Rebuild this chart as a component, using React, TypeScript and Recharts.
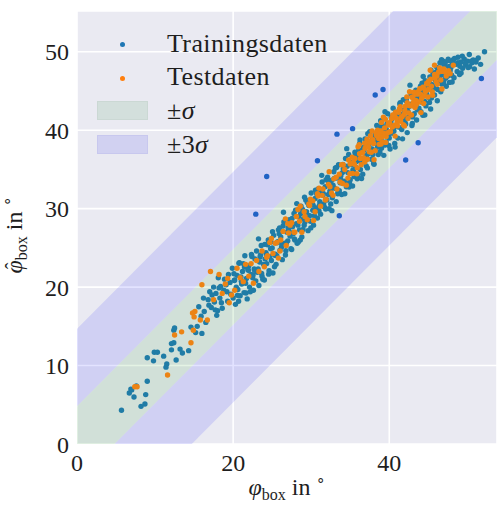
import React from "react";
import { ComposedChart, Scatter, Area, XAxis, YAxis, CartesianGrid, Label } from "recharts";

const SIGMA = 4.8;
const SIGMA3 = 14.7;
const X_MAX = 53.8;
const Y_MAX = 55.2;
const xTicks = [0, 20, 40];
const yTicks = [0, 10, 20, 30, 40, 50];

const trainingPoints: [number, number][] = [
  [5.7, 4.3], [8.2, 4.8], [8.7, 5.1], [6.7, 6.5], [7.3, 6.0], [7.0, 6.9], [8.8, 6.3], [9.0, 8.0], [7.6, 7.4], [6.9, 7.0],
  [9.0, 11.0], [9.8, 10.6], [9.9, 11.7], [10.3, 11.7], [11.1, 11.2], [11.5, 10.2], [11.4, 9.8], [12.1, 12.0], [12.7, 10.7],
  [12.1, 12.8], [12.4, 12.9], [13.2, 12.1], [13.5, 11.6], [14.3, 11.9], [12.4, 14.5], [14.6, 14.9], [15.2, 14.2], [16.0, 14.1],
  [12.5, 14.8], [15.6, 17.5], [16.3, 16.9], [16.9, 17.7], [16.8, 18.4], [17.2, 17.4], [17.6, 18.1], [18.0, 17.0], [18.3, 18.6],
  [17.9, 16.4], [16.5, 15.5], [15.9, 16.3], [15.4, 15.0], [16.2, 18.6], [17.0, 19.4], [17.5, 20.0], [17.8, 19.2], [18.4, 20.1],
  [18.8, 19.6], [18.1, 21.2], [18.6, 17.3],
  [19.1, 20.3], [19.3, 18.2], [19.4, 21.6], [19.7, 19.1], [19.9, 22.4], [20.0, 18.6], [20.2, 20.9], [20.3, 17.8], [20.5, 21.5],
  [20.6, 19.7], [20.8, 23.1], [20.9, 18.9], [21.1, 20.4], [21.2, 22.0], [21.4, 19.3], [21.5, 24.0], [21.7, 21.1], [21.8, 18.5],
  [22.0, 22.7], [22.1, 20.0], [22.3, 21.6], [22.4, 23.9], [22.6, 19.6], [22.7, 22.3], [22.9, 20.8], [23.0, 24.6], [23.1, 21.9],
  [23.3, 20.2], [23.4, 23.2], [23.6, 25.3], [23.7, 21.4], [23.9, 22.9], [24.0, 20.9], [24.2, 24.4], [24.3, 23.0], [24.5, 26.0],
  [24.6, 22.1], [24.8, 24.9], [24.9, 23.4], [25.1, 21.8], [25.2, 26.6], [25.4, 24.2], [25.5, 22.9], [25.7, 25.8], [25.8, 27.3],
  [26.0, 24.7], [26.1, 26.4], [26.3, 23.5], [26.4, 27.8], [26.6, 25.6], [26.7, 24.1], [26.9, 27.0], [27.0, 25.9], [27.2, 28.6],
  [27.3, 26.5], [27.5, 24.8], [27.6, 27.7], [27.8, 29.4], [27.9, 26.0], [28.1, 28.1], [28.2, 25.6], [28.4, 29.0], [28.5, 27.3],
  [28.7, 30.3], [28.8, 26.4], [29.0, 28.7], [29.1, 27.9], [29.3, 31.1], [29.4, 29.6], [29.6, 27.2], [29.7, 30.4], [29.9, 28.4],
  [30.0, 32.0], [30.2, 29.8], [30.3, 27.9], [30.5, 31.3], [30.6, 30.1], [30.8, 28.8], [30.9, 32.5], [31.1, 30.9], [31.2, 29.3],
  [31.4, 33.4], [31.5, 31.7], [31.7, 30.2], [31.8, 32.8], [32.0, 31.1], [32.1, 34.0], [32.3, 30.0], [32.4, 32.2], [32.6, 33.6],
  [32.7, 31.4], [32.9, 34.7], [33.0, 32.6], [33.2, 30.9], [33.3, 33.9], [33.5, 35.6], [33.6, 32.3], [33.8, 34.2], [33.9, 31.8],
  [34.1, 35.1], [34.2, 33.5], [34.4, 36.4], [34.5, 32.8], [34.7, 34.6], [34.8, 36.9], [35.0, 33.7], [35.1, 35.9], [35.3, 32.9],
  [35.4, 34.8], [35.6, 37.2], [35.7, 35.3], [35.9, 33.8], [36.0, 36.6], [36.2, 38.3], [36.3, 35.0], [36.5, 37.4], [36.6, 34.4],
  [36.8, 36.1], [36.9, 38.9], [37.1, 36.8], [37.2, 35.2], [37.4, 38.0], [37.5, 39.8], [37.7, 36.3], [37.8, 37.6], [38.0, 35.8],
  [38.1, 39.1], [38.3, 37.5], [38.4, 40.6], [38.6, 36.9], [38.7, 38.6], [38.9, 41.2], [39.0, 37.7], [39.2, 39.7], [39.3, 36.8],
  [39.5, 40.3], [39.6, 38.5], [39.8, 42.1], [39.9, 39.2], [40.1, 37.6], [40.2, 41.0], [40.4, 39.6], [40.5, 42.8], [40.7, 38.3],
  [40.8, 40.5], [41.0, 42.3], [41.1, 39.0], [41.3, 41.6], [41.4, 43.5], [41.6, 40.1], [41.7, 38.9], [41.9, 42.6], [42.0, 41.2],
  [42.2, 44.0], [42.3, 39.7], [42.5, 43.0], [42.6, 41.8], [42.8, 44.6], [42.9, 40.6], [43.1, 43.4], [43.2, 42.1], [43.4, 45.1],
  [43.5, 41.3], [43.7, 44.2], [43.8, 42.8], [44.0, 45.6], [44.1, 43.6], [44.3, 41.9], [44.4, 44.9], [44.6, 46.3], [44.7, 43.1],
  [44.9, 45.4], [45.0, 44.2], [45.2, 46.8], [45.3, 42.7], [45.5, 45.8], [45.6, 47.2], [45.8, 44.5], [45.9, 46.4], [46.1, 48.0],
  [46.2, 45.2], [46.4, 47.0], [46.5, 48.6], [46.7, 45.9], [46.8, 47.7], [47.0, 46.4], [47.1, 48.3], [47.3, 45.6], [47.4, 47.3],
  [47.6, 48.9], [47.7, 46.1], [47.9, 48.0], [48.0, 47.0], [48.2, 49.0], [48.3, 46.7], [48.5, 48.4], [48.7, 47.5], [48.8, 49.3],
  [49.0, 47.1], [49.2, 48.7], [49.4, 47.9], [49.6, 49.1], [49.8, 48.3], [50.0, 48.8], [50.3, 48.1], [50.6, 48.6], [50.9, 47.8],
  [51.1, 48.7], [51.4, 49.2], [51.7, 48.4], [52.2, 50.0], [46.7, 49.0], [46.9, 48.8], [47.6, 48.1],
  [17.3, 19.0], [17.7, 17.1], [18.2, 19.9], [18.5, 18.0], [18.9, 21.0], [19.2, 19.4], [19.6, 20.6], [20.1, 21.7], [20.4, 20.0],
  [20.7, 18.2], [21.0, 21.3], [21.3, 23.0], [21.6, 20.5], [21.9, 22.2], [22.2, 19.4], [22.5, 21.2], [22.8, 23.6], [23.2, 22.3],
  [23.5, 24.1], [23.8, 21.0], [24.1, 23.6], [24.4, 25.4], [24.7, 23.9], [25.0, 25.0], [25.3, 22.6], [25.6, 24.0], [25.9, 26.8],
  [26.2, 25.1], [26.5, 28.3], [26.8, 25.6], [27.1, 27.3], [27.4, 24.9], [27.7, 26.8], [28.0, 29.8], [28.3, 27.9], [28.6, 26.0],
  [28.9, 29.9], [29.2, 28.3], [29.5, 30.8], [29.8, 29.1], [30.1, 30.6], [30.4, 29.1], [30.7, 31.9], [31.0, 29.7], [31.3, 32.2],
  [31.6, 30.6], [31.9, 33.7], [32.2, 31.8], [32.5, 30.6], [32.8, 33.0], [33.1, 35.2], [33.4, 31.9], [33.7, 33.3], [34.0, 34.6],
  [34.3, 31.9], [34.6, 35.4], [34.9, 33.3], [35.2, 35.6], [35.5, 34.1], [35.8, 36.0], [36.1, 37.5], [36.4, 36.0], [36.7, 37.8],
  [37.0, 36.2], [37.3, 37.0], [37.6, 38.5], [37.9, 36.9], [38.2, 39.6], [38.5, 38.0], [38.8, 37.2], [39.1, 40.5], [39.4, 38.1],
  [39.7, 40.8], [40.0, 39.0], [40.3, 41.4], [40.6, 39.9], [40.9, 41.8], [41.2, 40.4], [41.5, 42.0], [41.8, 43.9], [42.1, 40.8],
  [42.4, 42.4], [42.7, 43.3], [43.0, 41.7], [43.3, 44.0], [43.6, 42.6], [43.9, 43.8], [44.2, 46.0], [44.5, 43.7], [44.8, 44.6],
  [45.1, 46.1], [45.4, 44.1], [45.7, 45.4], [46.0, 47.4], [46.3, 46.1], [46.6, 44.9], [46.9, 47.1], [47.2, 48.7], [47.5, 46.9],
  [47.8, 47.6], [48.1, 48.6], [48.8, 48.6], [49.2, 47.3], [50.1, 48.0], [50.5, 48.8], [51.1, 48.9],
  [20.15, 20.85], [20.55, 18.95], [20.75, 23.05], [21.05, 20.75], [21.45, 22.55], [21.65, 19.25], [21.95, 22.15], [22.35, 24.15],
  [22.55, 21.55], [22.75, 22.15], [23.25, 26.15], [23.45, 23.85], [23.65, 21.75], [24.05, 25.45], [24.25, 24.15], [24.55, 21.65],
  [24.85, 25.75], [25.05, 27.05], [25.35, 24.05], [25.65, 25.65], [25.95, 27.55], [26.25, 25.45], [26.45, 29.55], [26.75, 24.65],
  [27.05, 27.55], [27.35, 26.95], [27.55, 28.75], [27.85, 26.15], [28.15, 30.65], [28.35, 25.75], [28.65, 29.35], [28.95, 27.35],
  [29.15, 31.45], [29.45, 29.15], [29.75, 30.85], [29.95, 27.55], [30.25, 30.45], [30.55, 32.35], [30.85, 29.85], [31.05, 30.45],
  [31.35, 34.25], [31.55, 31.95], [31.85, 29.95], [32.15, 33.55], [32.45, 32.35], [32.65, 29.75], [32.95, 33.85], [33.25, 35.25],
  [33.45, 32.15], [33.75, 33.75], [34.05, 35.65], [34.25, 33.45], [34.55, 37.65], [34.85, 32.75], [35.15, 35.65], [35.35, 34.95],
  [35.65, 36.85], [35.95, 34.25], [36.25, 38.75], [36.45, 33.85], [36.75, 37.45], [37.05, 35.45], [37.25, 39.55], [37.55, 37.25],
  [37.85, 38.95], [38.05, 35.65], [38.35, 38.55], [38.65, 40.45], [38.85, 37.85], [39.15, 38.55], [39.45, 42.35], [39.65, 40.05],
  [39.95, 38.05], [40.25, 41.65], [40.45, 40.35], [40.75, 37.85], [41.05, 41.95], [41.35, 43.35], [41.55, 40.25], [41.85, 41.85],
  [42.15, 43.75], [42.35, 41.55], [42.65, 45.75], [42.95, 40.85], [43.25, 43.75], [43.45, 43.05], [43.75, 44.95], [44.05, 42.35],
  [44.35, 46.85], [44.55, 41.95], [44.85, 45.55], [45.15, 43.55], [45.35, 47.65], [45.65, 45.35], [45.95, 47.05], [46.15, 43.75],
  [46.45, 46.65], [46.75, 48.55], [46.95, 45.95], [47.25, 46.65], [47.55, 49.05], [47.75, 48.15], [48.05, 46.15], [48.35, 49.15],
  [48.55, 48.45], [49.05, 48.15], [49.35, 49.45], [49.75, 48.55], [50.25, 49.65], [50.75, 48.95],
];

// training samples that fall outside the ±σ band
const trainingOutliers: [number, number][] = [
  [24.3, 34.1], [22.9, 29.3], [30.8, 36.1], [33.3, 39.5], [35.3, 40.2], [38.2, 44.5], [39.2, 45.2],
  [43.7, 38.4], [42.1, 36.2], [51.8, 46.6], [33.6, 29.1],
];

const testPoints: [number, number][] = [
  [7.4, 7.3], [7.7, 7.3], [11.6, 8.8], [12.5, 13.9], [13.4, 14.3], [14.6, 12.9], [14.8, 16.7], [15.0, 16.2], [15.1, 16.9],
  [15.8, 15.8], [16.7, 15.8], [16.0, 20.3], [17.1, 22.0], [18.2, 21.6], [17.5, 18.4], [19.5, 18.0], [14.9, 14.5],
  [18.6, 19.2], [19.0, 20.4], [19.3, 21.1], [19.8, 19.0], [20.2, 19.6], [20.5, 22.4], [20.9, 21.2], [21.3, 20.7], [21.6, 22.9],
  [22.0, 21.4], [22.3, 23.0], [22.6, 20.5], [23.0, 23.4], [23.3, 22.0], [23.7, 24.6], [24.0, 22.6], [24.4, 24.0], [24.7, 25.7],
  [25.1, 24.3], [25.4, 25.6], [25.8, 23.7], [26.1, 26.0], [26.4, 27.1], [26.8, 25.3], [27.1, 26.9], [27.5, 28.2], [27.8, 27.0],
  [28.1, 29.0], [28.5, 28.4], [28.8, 27.0], [29.1, 29.6], [29.5, 28.6], [29.8, 30.4], [30.2, 31.0], [30.5, 29.6],
  [30.9, 31.6], [31.2, 30.3], [31.5, 32.5], [31.9, 31.2], [32.2, 33.1], [32.6, 32.0], [32.9, 33.8], [33.3, 32.5], [33.6, 34.4],
  [34.0, 33.2], [34.3, 35.0], [34.7, 33.9], [35.0, 35.7], [35.3, 34.5], [35.6, 36.4], [35.9, 35.2], [36.2, 37.0], [36.4, 35.6],
  [36.7, 36.5], [36.9, 37.7], [37.2, 36.3], [37.4, 38.4], [37.7, 37.2], [37.9, 38.8], [38.2, 37.4], [38.4, 39.3], [38.7, 38.2],
  [38.9, 39.9], [39.1, 38.5], [39.4, 40.3], [39.6, 39.2], [39.9, 40.9], [40.1, 39.8], [40.3, 41.5], [40.6, 40.6], [40.8, 42.3],
  [41.0, 41.0], [41.3, 42.7], [41.5, 41.6], [41.8, 40.7], [42.0, 42.5], [42.3, 43.5], [42.5, 42.2], [42.8, 43.1], [43.0, 44.2],
  [43.3, 42.9], [43.5, 44.6], [43.8, 43.6], [44.0, 44.6], [44.3, 45.5], [44.5, 44.4], [44.8, 46.0], [45.0, 45.2], [45.3, 46.5],
  [45.5, 44.9], [45.8, 47.1], [46.0, 46.2], [46.3, 47.4], [46.6, 46.4], [45.8, 48.3], [47.0, 47.8], [47.3, 46.9], [47.6, 47.6],
  [34.8, 36.2], [35.4, 35.9], [36.0, 37.9], [36.6, 37.2], [37.1, 37.9], [37.6, 39.3], [38.0, 38.3], [38.5, 40.0], [39.0, 41.0],
  [39.3, 39.6], [39.8, 39.7], [40.4, 40.4], [40.9, 41.5], [41.4, 43.0], [41.9, 42.0], [42.4, 41.5], [42.9, 44.2], [43.4, 43.8],
  [43.9, 45.3], [44.4, 43.4], [44.9, 45.9], [45.4, 45.6], [46.1, 46.9], [46.8, 47.5], [41.2, 42.3], [39.5, 41.4], [37.8, 39.9],
  [36.3, 36.4], [38.3, 39.7], [40.7, 41.8], [42.6, 44.9], [43.7, 44.9], [44.6, 45.1], [33.9, 35.6], [32.4, 32.8], [31.0, 32.6],
  [29.9, 31.2], [28.3, 29.9], [27.0, 28.1],
  [24.3, 23.8], [24.9, 26.2], [25.6, 25.7], [26.0, 24.6], [26.7, 28.7], [27.3, 27.9], [27.9, 27.0], [28.6, 30.3], [29.2, 29.0],
  [29.7, 30.6], [30.3, 28.5], [30.8, 31.9], [31.4, 31.7], [31.8, 31.1], [32.3, 34.7], [32.8, 31.7], [33.2, 34.0], [33.7, 33.4],
  [34.1, 35.6], [34.5, 33.0], [34.95, 34.45], [35.25, 36.55], [35.55, 35.65], [35.85, 34.45], [36.15, 38.15], [36.55, 37.15],
  [36.85, 35.95], [37.15, 38.85], [37.45, 37.25], [37.75, 38.65], [38.05, 36.25], [38.35, 39.45], [38.65, 38.95], [38.95, 38.25],
  [39.25, 41.65], [39.55, 38.45], [39.85, 40.65], [40.15, 39.85], [40.45, 41.95], [40.75, 39.25], [41.05, 40.55], [41.35, 42.65],
  [41.65, 41.75], [41.95, 40.55], [42.25, 44.25], [42.55, 43.15], [42.85, 41.95], [43.15, 44.85], [43.45, 43.25], [43.75, 44.65],
  [44.05, 42.25], [44.35, 45.45], [44.65, 44.95], [44.95, 44.25], [45.25, 47.65], [45.55, 44.45], [45.85, 46.65], [46.15, 45.85],
  [46.45, 47.95], [46.75, 45.25], [47.2, 47.4], [47.8, 47.2], [48.2, 48.3], [37.35, 37.85], [38.75, 39.55], [40.05, 40.95],
  [41.45, 41.15], [42.05, 43.05], [43.05, 43.55], [39.05, 39.15], [36.85, 38.35], [44.15, 44.05], [45.05, 46.25],
];

const FONT = "'Liberation Serif', 'Times New Roman', serif";
const TEXT = "#1e1e1e";
const BG = "#eaeaf2";
const GREEN_FILL = "rgba(44, 160, 44, 0.13)";
const BLUE_FILL = "rgba(0, 0, 255, 0.11)";
const TRAIN = "#207ca6";
const TRAIN_OUT = "#2062c4";
const TEST = "#ec8314";

// band edges only need the two ends of the x range, the lines are straight
const bandEnds = [0, X_MAX];
const sigmaBand = bandEnds.map((x) => ({ x, band: [x - SIGMA, x + SIGMA] }));
const upperBand = bandEnds.map((x) => ({ x, band: [x + SIGMA, x + SIGMA3] }));
const lowerBand = bandEnds.map((x) => ({ x, band: [x - SIGMA3, x - SIGMA] }));

const toXY = (pts: [number, number][]) => pts.map(([x, y]) => ({ x, y }));

const dot = (color: string) => (props: any) => (
  <circle cx={props.cx} cy={props.cy} r={2.7} fill={color} />
);

function XTitle(props: any) {
  const { x, y, width } = props.viewBox;
  return (
    <text x={x + width / 2} y={y + 51} textAnchor="middle" fontFamily={FONT} fontSize={24} fill={TEXT}>
      <tspan fontStyle="italic">φ</tspan>
      <tspan fontSize={16} dy={5}>box</tspan>
      <tspan dy={-5}> in </tspan>
      <tspan fontSize={15} dy={-10}>∘</tspan>
    </text>
  );
}

// rotated title, laid out from its start so the hat can sit over the phi
function YTitle(props: any) {
  const { y, height } = props.viewBox;
  const cy = y + height / 2;
  const start = -46;
  return (
    <g transform={`translate(22, ${cy}) rotate(-90)`} fontFamily={FONT} fill={TEXT}>
      <text x={start} y={0} fontSize={24}>
        <tspan fontStyle="italic">φ</tspan>
        <tspan fontSize={16} dy={5}>box</tspan>
        <tspan dy={-5}> in </tspan>
        <tspan fontSize={15} dy={-10}>∘</tspan>
      </text>
      <text x={start + 7.5} y={-2} fontSize={20} textAnchor="middle">ˆ</text>
    </g>
  );
}

const legendText: React.CSSProperties = {
  position: "absolute",
  left: 167,
  fontFamily: FONT,
  fontSize: 26,
  color: TEXT,
  lineHeight: "26px",
  whiteSpace: "nowrap",
  letterSpacing: 0.4,
};

export default function App() {
  return (
    <div style={{ position: "absolute", left: 0, top: 0, width: 499, height: 506, background: "#fff" }}>
      <ComposedChart width={499} height={506} margin={{ top: 11, right: 2, bottom: 0, left: 0 }}>
        <CartesianGrid fill={BG} stroke="#ffffff" strokeWidth={1.6} />
        <XAxis
          dataKey="x"
          type="number"
          domain={[0, X_MAX]}
          ticks={xTicks}
          allowDataOverflow
          axisLine={false}
          tickLine={false}
          tickSize={0}
          tickMargin={10}
          height={62}
          tick={{ fontFamily: FONT, fontSize: 24, fill: TEXT }}
        >
          <Label content={<XTitle />} />
        </XAxis>
        <YAxis
          type="number"
          domain={[0, Y_MAX]}
          ticks={yTicks}
          allowDataOverflow
          axisLine={false}
          tickLine={false}
          tickSize={0}
          tickMargin={8}
          width={77}
          tick={{ fontFamily: FONT, fontSize: 24, fill: TEXT }}
        >
          <Label content={<YTitle />} />
        </YAxis>
        <Area data={upperBand} dataKey="band" type="linear" fill={BLUE_FILL} fillOpacity={1} stroke="none" isAnimationActive={false} />
        <Area data={lowerBand} dataKey="band" type="linear" fill={BLUE_FILL} fillOpacity={1} stroke="none" isAnimationActive={false} />
        <Area data={sigmaBand} dataKey="band" type="linear" fill={GREEN_FILL} fillOpacity={1} stroke="none" isAnimationActive={false} />
        <Scatter data={toXY(trainingPoints)} dataKey="y" shape={dot(TRAIN)} isAnimationActive={false} />
        <Scatter data={toXY(trainingOutliers)} dataKey="y" shape={dot(TRAIN_OUT)} isAnimationActive={false} />
        <Scatter data={toXY(testPoints)} dataKey="y" shape={dot(TEST)} isAnimationActive={false} />
      </ComposedChart>

      <div style={{ position: "absolute", left: 119.5, top: 41.5, width: 5, height: 5, borderRadius: "50%", background: "#1f77b4" }} />
      <div style={{ ...legendText, top: 31 }}>Trainingsdaten</div>
      <div style={{ position: "absolute", left: 119.5, top: 75.5, width: 5, height: 5, borderRadius: "50%", background: "#ff7f0e" }} />
      <div style={{ ...legendText, top: 64 }}>Testdaten</div>
      <div style={{ position: "absolute", left: 97, top: 101, width: 51, height: 19, background: "#d3dfdc", boxShadow: "inset 0 0 0 1px #cbd8d4" }} />
      <div style={{ ...legendText, top: 98 }}>±<i>σ</i></div>
      <div style={{ position: "absolute", left: 97, top: 135, width: 51, height: 19, background: "#d1d1f1", boxShadow: "inset 0 0 0 1px #c8c8ee" }} />
      <div style={{ ...legendText, top: 132 }}>±3<i>σ</i></div>
    </div>
  );
}
